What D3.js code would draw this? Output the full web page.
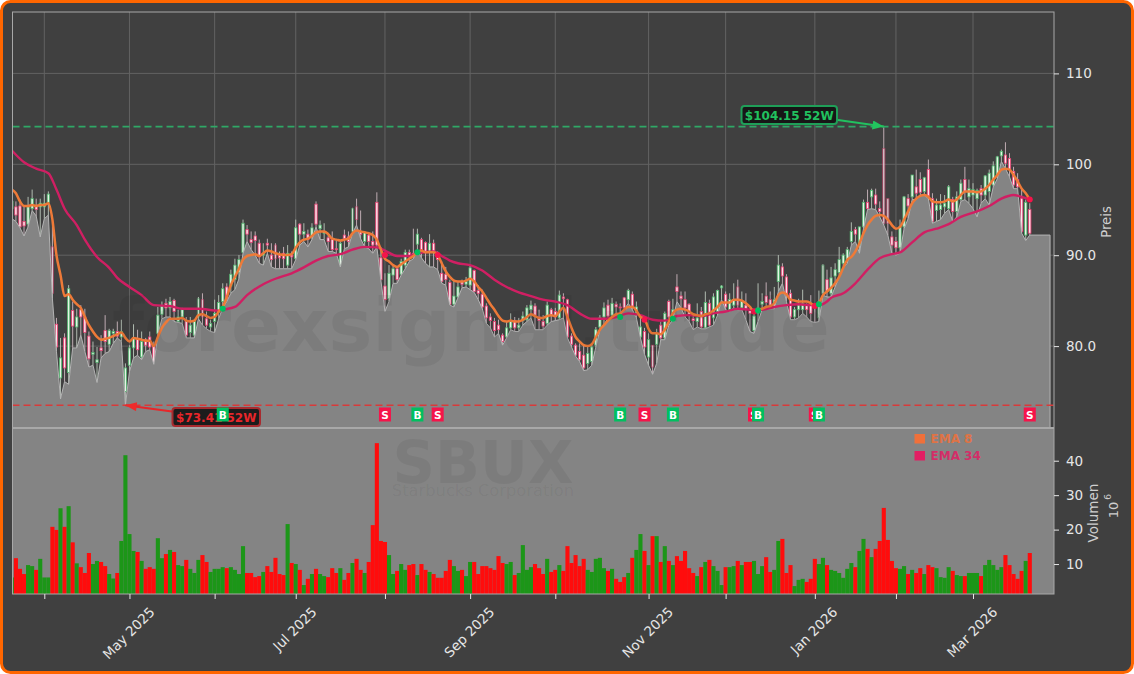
<!DOCTYPE html>
<html>
<head>
<meta charset="utf-8">
<script src="https://cdn.jsdelivr.net/npm/d3@7"></script>
<style>
html,body{margin:0;padding:0;background:#fff;overflow:hidden}
svg{display:block;font-family:"DejaVu Sans",sans-serif}
</style>
</head>
<body>
<svg id="chart" width="1134" height="674"></svg>
<script>
// ---- data ----
const highs=[96.9,96.0,96.2,95.6,96.5,97.3,96.3,96.3,96.8,97.1,
93.8,83.2,81.0,81.5,86.8,85.0,84.2,84.6,84.2,81.7,
80.6,80.0,81.3,83.5,82.0,82.0,82.8,83.0,78.2,80.2,
82.5,81.9,81.7,81.0,81.7,80.6,84.4,85.0,85.3,85.5,
85.3,84.1,84.3,83.3,83.3,83.0,85.5,85.9,83.9,83.0,
85.2,85.7,87.0,87.0,88.5,89.7,90.1,94.0,93.4,92.7,
92.7,91.8,91.4,91.9,91.4,91.4,90.5,91.0,91.2,90.5,
94.0,93.6,93.6,92.9,93.6,96.0,93.9,93.6,92.5,92.7,
91.8,91.6,92.9,92.7,95.3,96.3,95.0,92.7,92.5,92.7,
97.0,91.0,88.1,89.0,89.0,88.8,89.7,90.7,90.7,93.0,
93.0,92.0,91.6,92.4,91.8,90.5,89.4,88.8,87.4,87.4,
87.2,87.4,87.7,89.0,88.5,86.8,86.3,84.8,83.7,83.2,
83.0,81.5,82.8,83.7,83.3,83.2,83.9,84.6,85.1,84.8,
84.1,83.5,85.0,84.3,84.3,86.2,85.9,85.3,81.5,80.4,
80.4,80.2,80.0,80.2,82.2,83.5,84.9,85.2,85.4,85.0,
84.8,85.5,86.4,86.1,85.0,83.3,82.1,81.5,80.2,82.0,
82.8,83.9,85.2,85.3,88.0,86.1,86.1,84.8,83.5,84.8,
84.4,86.1,85.2,85.9,86.3,86.8,86.1,85.9,87.0,87.4,
86.1,85.9,84.2,83.9,87.0,85.9,87.1,86.1,86.6,90.1,
89.2,88.0,86.3,84.4,85.3,86.3,84.8,85.7,84.6,86.2,
89.1,88.5,88.8,89.2,91.0,90.3,91.0,93.7,93.2,93.2,
96.2,97.3,97.4,97.4,96.0,104.15,96.3,92.7,92.1,94.0,
96.6,96.8,98.9,99.5,99.2,98.7,100.6,96.9,96.3,96.8,
96.7,97.8,96.5,97.1,98.4,99.8,98.4,98.0,97.4,97.8,
98.9,99.5,100.4,101.0,101.7,102.5,101.3,99.8,99.1,97.4,96.2,95.8];
const lows=[94.1,93.8,93.1,92.2,93.2,95.0,94.4,92.1,94.1,94.5,
85.3,79.5,74.3,76.2,75.9,79.9,79.9,81.3,79.5,77.8,
78.0,76.1,78.8,79.3,79.5,80.4,81.0,80.6,73.6,77.3,
78.8,79.1,78.6,79.5,79.7,78.1,81.4,83.1,83.3,83.3,
82.8,82.7,82.6,81.0,81.0,81.0,83.1,82.4,82.0,81.7,
81.6,83.1,84.3,85.0,85.9,86.3,87.5,90.3,91.6,90.7,
90.1,89.2,89.0,90.3,88.8,88.6,88.6,88.6,88.6,88.6,
89.6,91.2,91.6,91.0,91.8,93.2,91.8,91.8,90.5,90.5,
90.3,88.8,90.8,91.0,92.5,93.4,91.9,91.0,90.8,90.3,
91.0,87.3,83.9,85.0,87.0,87.0,87.9,88.6,89.4,89.7,
90.7,89.8,89.2,88.8,88.8,88.5,87.0,86.8,84.6,84.4,
85.4,86.5,86.6,86.3,86.0,85.2,84.2,82.6,82.1,81.1,
81.5,80.2,81.0,81.9,81.7,81.7,82.4,82.8,83.2,81.9,
81.9,81.9,82.4,82.8,82.9,83.0,83.2,81.0,80.0,79.0,
78.4,77.4,77.5,78.0,80.0,81.9,82.4,83.2,83.2,83.7,
83.5,84.1,84.8,84.1,83.2,81.0,79.2,78.0,77.0,78.2,
80.8,80.8,82.4,83.0,85.0,84.3,83.3,82.8,81.9,82.2,
82.0,82.0,82.2,82.4,83.5,85.2,84.1,83.9,84.3,84.1,
84.1,83.0,81.7,81.5,82.8,84.1,84.2,84.2,84.2,86.1,
87.0,85.0,83.0,83.0,83.2,83.7,83.3,82.8,82.7,82.8,
85.7,85.5,85.5,86.6,87.7,88.7,89.2,91.2,91.6,90.3,
93.0,95.1,95.2,95.1,94.3,93.4,92.3,90.3,90.1,90.3,
93.0,94.1,96.2,96.2,96.7,96.7,96.3,93.6,93.8,94.0,
94.7,95.1,93.8,94.3,96.0,96.2,95.8,95.2,94.3,95.8,
96.3,95.6,97.6,98.5,100.4,99.6,98.7,97.4,97.4,92.5,91.7,92.3];
const opens=[95.2,95.4,95.5,93.8,93.5,95.2,95.5,95.4,95.4,95.9,
91.0,82.5,76.6,81.0,77.2,84.0,82.2,84.1,83.3,81.2,
79.2,78.3,79.9,81.8,80.3,81.5,81.7,81.1,75.1,78.0,
79.9,80.9,78.9,80.8,81.1,80.2,81.5,83.6,84.8,84.3,
85.1,82.8,83.3,82.9,81.6,81.3,83.3,85.2,83.1,82.2,
82.8,83.8,85.0,86.6,86.7,87.4,88.2,90.4,92.9,91.8,
92.2,91.4,90.1,91.4,90.1,91.2,90.1,90.3,89.0,90.1,
89.7,93.5,92.4,92.4,92.1,95.7,93.0,92.5,92.0,91.8,
90.8,89.0,92.3,92.1,92.7,95.4,92.7,91.6,92.3,91.6,
95.9,89.8,86.7,85.3,87.9,88.6,88.0,89.0,90.4,90.3,
91.3,91.8,91.5,90.5,91.4,90.3,88.1,88.0,87.1,84.7,
85.5,87.2,86.9,86.8,88.4,86.2,85.8,84.5,83.3,82.8,
82.4,81.3,81.1,82.1,82.9,82.1,82.9,83.0,84.1,84.5,
83.3,82.8,82.6,84.1,83.9,83.2,85.5,85.2,81.2,80.2,
79.5,79.1,78.2,78.4,80.2,82.2,83.3,84.6,83.5,84.7,
84.4,85.4,85.2,85.8,83.7,81.1,81.7,78.9,80.2,80.3,
82.4,81.0,85.0,83.2,86.6,85.6,85.2,84.7,83.1,82.8,
83.9,82.1,84.8,83.2,83.9,86.5,85.8,84.1,84.6,86.6,
84.3,84.6,84.1,81.8,83.7,84.7,85.6,85.2,84.4,87.2,
88.8,87.7,85.9,83.3,84.1,84.1,84.6,84.6,84.6,83.2,
85.9,87.4,85.9,87.8,88.2,89.2,89.6,91.6,92.9,91.2,
93.2,95.9,96.5,96.7,95.2,101.8,96.3,92.1,91.6,90.9,
93.2,96.3,96.5,97.6,98.4,97.1,99.5,96.3,95.0,95.1,
95.4,95.2,96.2,94.9,96.2,98.4,96.5,96.7,96.3,97.4,
96.7,97.1,97.8,98.7,101.0,101.1,100.7,99.3,98.4,96.3,92.3,95.1];
const closes=[96.0,94.5,93.2,93.3,95.4,96.3,95.1,95.8,95.8,96.8,
85.9,80.0,78.8,77.7,86.4,82.3,83.3,83.3,81.6,78.7,
79.4,78.6,79.6,80.6,81.8,81.7,81.2,81.7,77.7,79.9,
81.0,79.7,80.6,80.2,80.0,78.2,83.5,84.5,84.3,85.0,
83.9,83.3,84.1,81.3,82.4,82.8,85.3,83.3,82.4,82.6,
83.7,84.9,86.4,85.3,88.0,89.0,89.6,93.6,92.4,91.5,
91.7,89.9,90.3,91.2,89.6,89.7,89.8,89.7,90.3,89.9,
93.1,92.4,92.7,91.8,93.1,93.5,93.4,92.7,91.6,90.7,
90.7,91.4,91.9,91.6,95.2,94.0,92.4,92.6,91.6,91.2,
91.2,87.4,85.2,88.1,88.6,87.4,89.4,90.4,89.9,89.9,
92.4,90.7,90.5,91.4,90.5,89.6,87.2,87.4,84.7,85.6,
86.6,86.9,87.2,88.7,86.1,85.9,84.4,83.2,82.9,81.8,
81.9,80.6,82.1,82.8,82.1,82.4,83.4,84.3,84.6,83.5,
82.9,82.3,84.6,83.5,83.3,85.7,85.3,81.1,80.3,79.1,
78.6,77.7,79.3,80.0,81.9,83.2,84.3,83.4,84.8,84.4,
84.3,84.3,86.2,84.5,84.4,82.2,80.0,80.8,77.8,81.5,
81.0,83.7,83.3,84.1,86.1,85.3,84.3,83.5,82.9,83.2,
82.2,84.9,82.4,85.5,86.2,86.7,84.4,85.2,85.2,84.6,
85.0,84.1,83.7,83.4,84.3,85.0,84.9,84.6,85.2,89.0,
87.8,85.7,83.3,84.1,84.6,84.8,84.1,83.7,84.4,85.0,
89.0,86.1,87.6,88.5,89.6,90.1,90.7,92.7,92.4,93.2,
95.9,95.2,97.2,95.7,94.9,93.6,93.6,91.2,90.9,93.2,
96.5,95.5,98.9,96.9,97.0,98.6,96.6,93.8,95.6,95.6,
95.8,97.6,94.9,96.5,98.0,97.1,97.4,97.3,97.2,96.7,
98.8,99.1,99.9,100.9,101.5,100.2,99.5,97.8,97.6,92.7,95.9,92.5];
const volumes=[6.1,11.7,8.6,7.1,9.7,9.4,8.3,11.5,6.1,6.1,
20.8,19.9,26.2,20.8,26.8,16.3,10.2,9.1,7.4,13.2,
10,10.9,10.6,9.4,7.1,5.8,7.4,16.7,41.6,18.7,
13.8,13.5,10.9,8.6,9.1,8.6,17.5,11.7,12.9,14.1,
13.5,9.7,9.4,11.2,8.6,7.4,11.2,12.6,10.6,7.7,
8.6,8.6,9.1,8.8,9.1,8.3,7.1,15.2,7.4,7.4,
6.2,6.5,7.7,9.4,7.7,11.8,7.1,6.8,21.6,10.3,
10,8.3,3.9,5.7,7.1,8.6,7.1,6.5,6.2,8.8,
7.4,8.8,5.4,7.4,10.3,11.5,8.3,7.4,10.6,21.3,
45.1,16.7,16.4,12.6,7.1,8.0,10,8.3,9.7,10,
6.8,10,8.3,7.7,7.1,6,6,8,11.2,9.4,
8,8.3,6.5,10.6,10.6,7.1,9.4,9.4,8.8,8.3,
12.3,10.3,10,10.6,6.8,7.4,15.5,8.3,9.1,10,
8.8,7.1,11.5,7.7,8.3,9.7,8,15.2,10.3,12.6,
9.4,11.5,8.3,7.7,11.5,11.8,8.8,8,8.6,5.7,
4.8,6.2,7.4,11.8,14.1,18.7,13.8,9.7,18.1,18.1,
10.6,15.2,10.9,9.7,12.3,10.9,13.8,8.8,7.4,6.5,
9.1,10.6,11.2,9.4,8,3.9,9.1,9.1,9.4,10.9,
9.7,10.6,10.6,10.9,7.1,9.4,12,7.7,8.3,16.7,
17.3,7.4,9.7,3.6,5.4,5.7,4.8,5.7,11.5,10,
11.8,9.7,8.3,8,7.4,6,8.6,10.3,9.1,13.8,
17.3,14.4,12,14.4,16.7,26.3,17,10.9,8.8,8.6,
9.4,7.1,8.3,7.4,8.8,7.1,9.7,9.1,8.8,6.2,
6,9.1,8,6.8,6.5,6.5,7.4,7.4,7.4,6.5,
9.7,11.2,9.7,8.3,9.1,12.6,9.7,7.1,5.7,8,
10.9,13.2];
const ema8=[97.3,96.9,96.0,95.5,95.5,95.6,95.5,95.6,95.6,95.8,
94.0,90.1,87.9,85.6,85.8,85.2,84.7,84.3,83.3,82.4,
81.7,81.1,80.8,80.9,81.0,81.2,81.4,81.6,81.0,80.6,
81.0,80.9,80.8,80.7,80.7,80.1,81.1,82.1,82.7,83.1,
83.1,83.1,83.2,82.9,82.8,82.9,83.5,83.6,83.4,83.2,
83.3,83.9,84.4,85.5,86.8,87.7,88.6,89.6,90.0,90.1,
90.2,90.0,90.3,90.6,90.5,90.3,90.2,90.1,90.1,90.2,
90.9,91.5,91.8,91.9,92.2,92.6,92.7,92.7,92.4,91.9,
91.8,91.7,91.8,91.9,92.5,92.8,92.7,92.6,92.5,92.3,
91.8,90.7,89.7,89.4,89.0,88.8,89.1,89.4,89.7,90.0,
90.4,90.6,90.4,90.4,90.4,90.1,89.2,88.3,87.7,87.3,
87.2,87.2,87.3,87.5,87.2,86.6,86.1,85.4,84.7,84.1,
83.4,82.9,82.8,82.9,82.8,82.8,83.0,83.3,83.6,83.4,
83.2,83.2,83.4,83.5,83.4,83.9,84.3,83.3,82.1,81.1,
80.6,80.2,80.1,80.3,81.1,81.9,82.4,82.9,83.3,83.6,
83.7,84.1,84.4,84.4,84.0,83.3,83.1,82.0,81.5,81.5,
81.4,81.9,82.8,83.7,84.1,84.2,84.1,83.9,83.6,83.5,
83.4,83.6,83.7,84.0,84.4,84.9,84.9,84.9,85.2,85.2,
85.1,84.8,84.4,83.9,84.1,84.2,84.4,84.5,84.8,85.7,
86.0,85.8,85.2,85.1,85.0,85.0,85.0,84.8,84.5,84.8,
85.7,86.1,86.5,87.0,87.7,88.7,89.6,89.9,90.5,91.4,
92.5,93.4,94.0,94.4,94.5,94.4,94.0,93.4,93.0,93.2,
94.0,94.9,95.8,96.3,96.6,96.7,96.5,96.0,95.9,95.9,
96.0,96.2,96.0,96.2,96.7,97.1,97.1,97.1,97.0,97.1,
97.4,97.8,98.4,98.9,99.5,99.6,99.5,98.9,98.2,97.4,96.9,96.2];
const ema34Days=[0,3,6,9,11,13,16,18,21,24,26,29,32,35,39,42,46,51,52,55,58,62,65,69,72,75,78,81,84,87,90,92,95,98,100,104,106,108,110,113,116,119,122,125,128,131,134,137,140,143,146,149,152,155,158,161,164,167,170,173,176,179,182,185,188,191,194,197,199,201,202,205,208,211,214,217,219,222,225,228,231,234,238,241,244,247,249,251];
const ema34=[101.6,100.3,99.6,99.1,97.3,95.2,93.4,91.8,89.9,88.7,87.6,86.6,85.7,84.6,84.5,84.2,84.2,84.0,84.1,84.4,85.7,86.9,87.5,88.1,88.75,89.5,90.0,90.2,90.7,91.0,90.95,90.6,90.0,90.0,90.3,90.5,90.0,89.5,89.2,89.0,88.4,87.4,86.6,86.0,85.6,85.2,85.0,84.6,83.7,83.1,83.1,83.3,83.7,83.5,83.0,82.9,83.4,83.5,83.4,83.7,83.9,84.2,84.1,84.1,84.4,84.6,84.7,84.6,84.6,85.0,85.4,85.9,87.0,88.5,89.75,90.2,90.4,91.5,92.6,93.0,93.5,94.3,94.9,95.5,96.3,96.7,96.5,96.2];
const signalDays=[52,92,100,105,150,156,163,183,184,198,199,251];
const signalKinds=["B","S","B","S","B","S","B","S","B","S","B","S"];
const signalPrices=[84.2,90.1,90.4,90.1,83.3,83.0,83.1,83.9,84.0,84.5,84.7,96.2];
const paleDays=[10,46,47,65,84,85,158,179,184,199,200,215,216];
const monthTickDays=[8,29,50,70,92,113,134,157,176,198,218,237];
const monthTickLabels=["","May 2025","","Jul 2025","","Sep 2025","","Nov 2025","","Jan 2026","","Mar 2026"];
const priceTicks=[80,90,100,110];
const priceTickLabels=["80.0","90.0","100","110"];
const volumeTicks=[10,20,30,40];
const high52=104.15, low52=73.5, high52Day=215, low52Day=28;
const lastFilledDay=256;

// ---- scales ----
const W=1134,H=674;
const left=12.5,right=1054,priceTop=12,priceBottom=428,volBottom=594;
const x=d3.scaleLinear().domain([8,237]).range([44.3,973]);
const y=d3.scaleLinear().domain([80,110]).range([346.1,73.4]);   // axis, grid, 52-week lines
const ym=d3.scaleLinear().domain([80,110]).range([347,74]);      // candles, area, EMAs
const yv=d3.scaleLinear().domain([1.3,49.5]).range([volBottom,priceBottom]);
const days=d3.range(highs.length);
const isUp=i=>closes[i]>=opens[i];

const svg=d3.select("#chart");
svg.append("rect").attr("x",1.5).attr("y",1.5).attr("width",W-3).attr("height",H-3).attr("rx",9)
  .attr("fill","#404040").attr("stroke","#ff6600").attr("stroke-width",3);
const defs=svg.append("defs");
defs.append("clipPath").attr("id","pc").append("rect").attr("x",left).attr("y",priceTop).attr("width",right-left).attr("height",priceBottom-priceTop);
defs.append("clipPath").attr("id","vc").append("rect").attr("x",left).attr("y",priceBottom).attr("width",right-left).attr("height",volBottom-priceBottom);
function arrow(id,col){
  defs.append("marker").attr("id",id).attr("viewBox","0 0 10 8").attr("refX",10).attr("refY",4)
    .attr("markerWidth",14).attr("markerHeight",9).attr("markerUnits","userSpaceOnUse").attr("orient","auto")
    .append("path").attr("d","M0,0L10,4L0,8Z").attr("fill",col);
}
arrow("ag","#22c55e");arrow("ar","#ef2b2b");

// ---- price panel ----
const price=svg.append("g").attr("clip-path","url(#pc)");
price.selectAll(".gy").data(priceTicks).join("line")
  .attr("x1",left).attr("x2",right).attr("y1",d=>y(d)).attr("y2",d=>y(d)).attr("stroke","#626262").attr("stroke-width",1);
price.selectAll(".gx").data(monthTickDays).join("line")
  .attr("x1",d=>x(d)).attr("x2",d=>x(d)).attr("y1",priceTop).attr("y2",priceBottom).attr("stroke","#626262").attr("stroke-width",1);

// candles behind the low-price area
const pale=new Set(paleDays);
const cg=price.append("g");
cg.selectAll("line").data(days).join("line")
  .attr("x1",d=>x(d)).attr("x2",d=>x(d)).attr("y1",d=>ym(highs[d])).attr("y2",d=>ym(lows[d]))
  .attr("stroke",d=>isUp(d)?"#bcc8bc":"#cdb8bf").attr("stroke-width",0.9);
cg.selectAll("rect").data(days).join("rect")
  .attr("x",d=>x(d)-1.15).attr("width",2.3)
  .attr("y",d=>ym(Math.max(opens[d],closes[d])))
  .attr("height",d=>Math.max(1,Math.abs(ym(opens[d])-ym(closes[d]))))
  .attr("fill",d=>isUp(d)?"#e6f4e6":"#fbe4ea")
  .attr("stroke",d=>isUp(d)?"#4fb56d":"#ea3f72")
  .attr("stroke-width",0.8)
  .attr("opacity",d=>pale.has(d)?0.55:1);

// gray area under the lows
const areaPts=days.map(i=>[x(i),ym(lows[i])]).concat([[x(lastFilledDay),ym(lows[lows.length-1])]]);
price.append("path").datum(areaPts)
  .attr("d",d3.area().x(d=>d[0]).y0(priceBottom).y1(d=>d[1]))
  .attr("fill","#848484");
price.append("path").datum(areaPts.concat([[x(lastFilledDay),priceBottom]]))
  .attr("d",d3.line().x(d=>d[0]).y(d=>d[1]))
  .attr("fill","none").attr("stroke","#b4b4b4").attr("stroke-width",1);

// watermark
svg.append("text").text("forexsignal.trade").attr("x",112).attr("y",351)
  .attr("font-size",73.7).attr("font-weight","bold").attr("fill","#000").attr("fill-opacity",0.06);

// 52-week lines
price.append("line").attr("x1",left).attr("x2",right).attr("y1",y(high52)).attr("y2",y(high52))
  .attr("stroke","#2fa866").attr("stroke-width",1.6).attr("stroke-dasharray","7,4");
price.append("line").attr("x1",left).attr("x2",right).attr("y1",y(low52)).attr("y2",y(low52))
  .attr("stroke","#d83a3a").attr("stroke-width",1.6).attr("stroke-dasharray","7,4");

// EMA lines
const ema8Line=d3.line().x((d,i)=>x(i)).y(d=>ym(d)).curve(d3.curveMonotoneX);
const ema34Line=d3.line().x((d,i)=>x(ema34Days[i])).y(d=>ym(d)).curve(d3.curveMonotoneX);
price.append("path").attr("d",ema34Line(ema34)).attr("fill","none").attr("stroke","#d01f63").attr("stroke-width",2.4);
price.append("path").attr("d",ema8Line(ema8)).attr("fill","none").attr("stroke","#ee7a38").attr("stroke-width",2.5);

// crossover dots
price.selectAll(".sig").data(signalDays).join("circle")
  .attr("cx",d=>x(d)).attr("cy",(d,i)=>ym(signalPrices[i])).attr("r",3)
  .attr("fill",(d,i)=>signalKinds[i]==="B"?"#00c060":"#f5144a");

// ---- volume panel ----
svg.append("rect").attr("x",left).attr("y",priceBottom).attr("width",right-left).attr("height",volBottom-priceBottom).attr("fill","#848484");
svg.append("text").text("SBUX").attr("x",483).attr("y",483).attr("text-anchor","middle")
  .attr("font-size",59).attr("font-weight","bold").attr("fill","#000").attr("fill-opacity",0.06);
svg.append("text").text("Starbucks Corporation").attr("x",483).attr("y",496).attr("text-anchor","middle")
  .attr("font-size",16.3).attr("fill","#000").attr("fill-opacity",0.055);
const vol=svg.append("g").attr("clip-path","url(#vc)");
vol.selectAll("rect").data(days).join("rect")
  .attr("x",d=>x(d)-2.05).attr("width",4.1)
  .attr("y",d=>yv(volumes[d])).attr("height",d=>volBottom-yv(volumes[d]))
  .attr("fill",d=>isUp(d)?"#1c9618":"#ff0c0c");

// ---- labels and B / S markers ----
function labelBox(xl,yt,w,h,txt,col,stroke,anchorDay,anchorPrice,mk,x0,y0){
  svg.append("line").attr("x1",x0).attr("y1",y0).attr("x2",x(anchorDay)).attr("y2",y(anchorPrice))
    .attr("stroke",col).attr("stroke-width",2).attr("marker-end",`url(#${mk})`);
  svg.append("rect").attr("x",xl).attr("y",yt).attr("width",w).attr("height",h).attr("rx",3)
    .attr("fill","#141414").attr("fill-opacity",0.92).attr("stroke",stroke).attr("stroke-width",2);
  svg.append("text").text(txt).attr("x",xl+w/2).attr("y",yt+h/2+0.5).attr("text-anchor","middle").attr("dominant-baseline","central")
    .attr("font-size",12).attr("font-weight","bold").attr("fill",col);
}
labelBox(741.5,106,95.5,18,"$104.15 52W","#21c15f","#1f9f58",high52Day,high52,"ag",838,120);
labelBox(172.5,408,87.5,18,"$73.41 52W","#e8262a","#a82a2e",low52Day,low52,"ar",172,411.5);
signalDays.forEach((d,i)=>{
  const g=svg.append("g");
  g.append("rect").attr("x",x(d)-6).attr("y",407.5).attr("width",12).attr("height",14)
    .attr("fill",signalKinds[i]==="B"?"#00c060":"#f5144a");
  g.append("text").text(signalKinds[i]).attr("x",x(d)).attr("y",414.7).attr("text-anchor","middle").attr("dominant-baseline","central")
    .attr("font-size",10.5).attr("font-weight","bold").attr("fill","#fff");
});

// ---- spines and axes ----
const spine="#a8a8a8";
svg.append("rect").attr("x",left).attr("y",priceTop).attr("width",right-left).attr("height",volBottom-priceTop)
  .attr("fill","none").attr("stroke",spine).attr("stroke-width",1);
svg.append("line").attr("x1",left).attr("x2",right).attr("y1",priceBottom).attr("y2",priceBottom).attr("stroke",spine).attr("stroke-width",2);

const tickCol="#e6e6e6";
function styleAxis(g){
  g.select(".domain").remove();
  g.selectAll(".tick line").attr("stroke",tickCol).attr("stroke-width",1);
  g.selectAll(".tick text").attr("fill",tickCol).attr("font-size",13.5).attr("font-family","DejaVu Sans");
}
svg.append("g").attr("transform",`translate(${right},0)`)
  .call(d3.axisRight(y).tickValues(priceTicks).tickSize(5).tickPadding(7).tickFormat((d,i)=>priceTickLabels[i]))
  .call(styleAxis);
svg.append("g").attr("transform",`translate(${right},0)`)
  .call(d3.axisRight(yv).tickValues(volumeTicks).tickSize(5).tickPadding(7).tickFormat(d3.format("d")))
  .call(styleAxis);
const xAxis=svg.append("g").attr("transform",`translate(0,${volBottom})`)
  .call(d3.axisBottom(x).tickValues(monthTickDays).tickSize(5).tickFormat((d,i)=>monthTickLabels[i]))
  .call(styleAxis);
xAxis.selectAll(".tick text").each(function(d){
  const t=d3.select(this), w=this.getComputedTextLength();
  const half=(w+15)*Math.SQRT1_2/2;
  t.attr("text-anchor","middle").attr("dy",null).attr("y",null).attr("dominant-baseline","central")
   .attr("transform",`translate(-1.5,${10+half}) rotate(-45)`);
});
function vText(txt,cx,cy,size){
  return svg.append("text").text(txt).attr("text-anchor","middle").attr("dominant-baseline","central")
    .attr("transform",`translate(${cx},${cy}) rotate(-90)`).attr("font-size",size).attr("fill","#cfcfcf");
}
vText("Preis",1106,222,13.2);
vText("Volumen",1093,513,13.5);
vText("10",1113,510,13);
vText("6",1108,497,9);

// ---- legend ----
const legendNames=["EMA 8","EMA 34"], legendColors=["#f0703a","#e21e63"];
legendNames.forEach((n,i)=>{
  svg.append("rect").attr("x",914.5).attr("y",434+i*17).attr("width",10.5).attr("height",9.5).attr("fill",legendColors[i]);
  svg.append("text").text(n).attr("x",930.5).attr("y",442.5+i*17).attr("font-size",12).attr("font-weight","bold").attr("fill",legendColors[i]).attr("fill-opacity",0.85);
});
</script>
</body>
</html>
